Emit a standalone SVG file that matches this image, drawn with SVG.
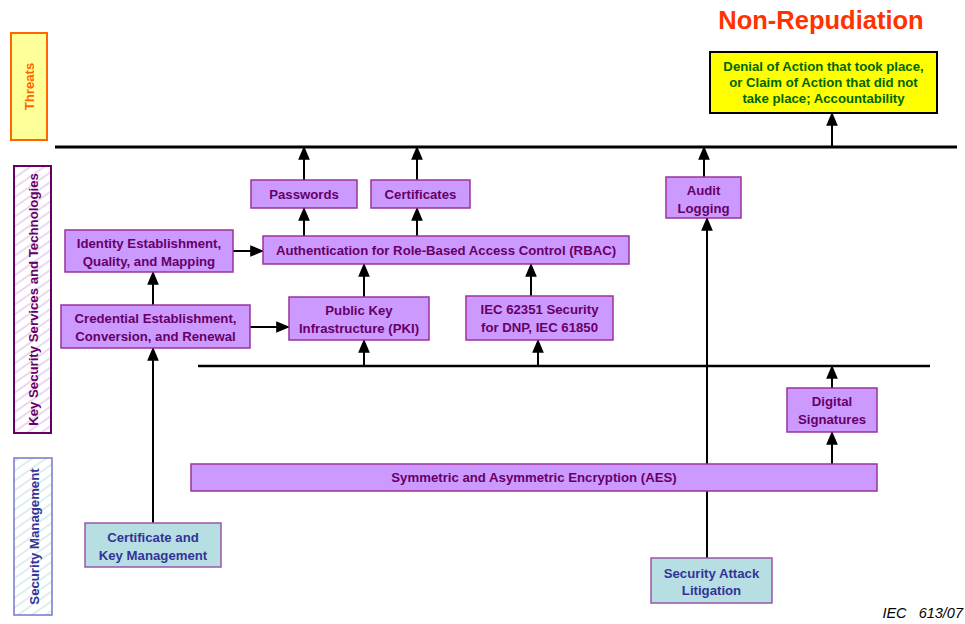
<svg xmlns="http://www.w3.org/2000/svg" width="965" height="624" viewBox="0 0 965 624">
<defs>
<marker id="ah" viewBox="0 0 12 10" refX="11" refY="5" markerWidth="7" markerHeight="6" orient="auto" markerUnits="strokeWidth">
<path d="M0,0 L12,5 L0,10 Z" fill="#000"/>
</marker>
<pattern id="hatchP" width="8" height="8" patternUnits="userSpaceOnUse" patternTransform="rotate(-35)">
<rect width="8" height="8" fill="#fff"/>
<line x1="0" y1="2" x2="8" y2="2" stroke="#e2c8ee" stroke-width="1.4"/>
</pattern>
<pattern id="hatchB" width="8" height="8" patternUnits="userSpaceOnUse" patternTransform="rotate(-35)">
<rect width="8" height="8" fill="#fff"/>
<line x1="0" y1="2" x2="8" y2="2" stroke="#cfe6ea" stroke-width="1.4"/>
</pattern>
</defs>
<style>
text{font-family:"Liberation Sans",Arial,sans-serif;font-weight:bold;text-anchor:middle}
.p rect{fill:#cc99ff;stroke:#993399;stroke-width:1.5}
.p text{fill:#660066;font-size:13.2px}
.c rect{fill:#b7dfe3;stroke:#9955aa;stroke-width:1.5}
.c text{fill:#333399;font-size:13.2px}
.conn line{stroke:#000;stroke-width:2}
.conn line.a{marker-end:url(#ah)}
</style>
<rect width="965" height="624" fill="#fff"/>

<g id="title"><text x="821" y="29" font-size="25.5" fill="#ff3300">Non-Repudiation</text></g>

<g id="lane-threats">
<rect x="11" y="33" width="36" height="107" fill="#ffff99" stroke="#ff6600" stroke-width="2"/>
<text transform="translate(34,86.5) rotate(-90)" font-size="13.2" fill="#ff6600">Threats</text>
</g>
<g id="lane-key">
<rect x="14" y="166" width="37" height="267" fill="url(#hatchP)" stroke="#660066" stroke-width="2"/>
<text transform="translate(37.5,299.5) rotate(-90)" font-size="13.2" fill="#660066">Key Security Services and Technologies</text>
</g>
<g id="lane-mgmt">
<rect x="14" y="458" width="38" height="157" fill="url(#hatchB)" stroke="#7777cc" stroke-width="1.5"/>
<text transform="translate(38.5,536.5) rotate(-90)" font-size="13.2" fill="#333399">Security Management</text>
</g>

<g id="connectors" class="conn">
<line x1="55" y1="147" x2="957" y2="147" style="stroke-width:3"/>
<line x1="198" y1="366" x2="930" y2="366" style="stroke-width:2.5"/>
<line class="a" x1="832" y1="147" x2="832" y2="113"/>
<line class="a" x1="304" y1="180" x2="304" y2="147"/>
<line class="a" x1="417" y1="180" x2="417" y2="147"/>
<line class="a" x1="704" y1="177" x2="704" y2="147"/>
<line class="a" x1="304" y1="236" x2="304" y2="208"/>
<line class="a" x1="417" y1="236" x2="417" y2="208"/>
<line class="a" x1="233" y1="251" x2="263" y2="251"/>
<line class="a" x1="153" y1="305" x2="153" y2="272"/>
<line class="a" x1="250" y1="327" x2="289" y2="327"/>
<line class="a" x1="364" y1="297" x2="364" y2="264"/>
<line class="a" x1="531" y1="296" x2="531" y2="264"/>
<line class="a" x1="364" y1="366" x2="364" y2="340"/>
<line class="a" x1="538" y1="366" x2="538" y2="340"/>
<line class="a" x1="153" y1="523" x2="153" y2="348"/>
<line class="a" x1="707" y1="558" x2="707" y2="218"/>
<line class="a" x1="832" y1="464" x2="832" y2="432"/>
<line class="a" x1="832" y1="388" x2="832" y2="366"/>
</g>

<g id="threat">
<rect x="710" y="52" width="227" height="61" fill="#ffff00" stroke="#000" stroke-width="2"/>
<text font-size="13.2" fill="#006600"><tspan x="823.5" y="71">Denial of Action that took place,</tspan><tspan x="823.5" y="87">or Claim of Action that did not</tspan><tspan x="823.5" y="103">take place; Accountability</tspan></text>
</g>

<g id="passwords" class="p"><rect x="251" y="180" width="106" height="28"/><text x="304" y="199">Passwords</text></g>
<g id="certificates" class="p"><rect x="371" y="180" width="99" height="28"/><text x="420.5" y="199">Certificates</text></g>
<g id="audit" class="p"><rect x="666" y="177" width="75" height="41"/><text><tspan x="703.5" y="195">Audit</tspan><tspan x="703.5" y="213">Logging</tspan></text></g>
<g id="rbac" class="p"><rect x="263" y="236" width="366" height="28"/><text x="446" y="255">Authentication for Role-Based Access Control (RBAC)</text></g>
<g id="identity" class="p"><rect x="65" y="230" width="168" height="42"/><text><tspan x="149" y="248">Identity Establishment,</tspan><tspan x="149" y="266">Quality, and Mapping</tspan></text></g>
<g id="credential" class="p"><rect x="61" y="305" width="189" height="43"/><text><tspan x="155.5" y="323">Credential Establishment,</tspan><tspan x="155.5" y="341">Conversion, and Renewal</tspan></text></g>
<g id="pki" class="p"><rect x="289" y="297" width="140" height="43"/><text><tspan x="359" y="315">Public Key</tspan><tspan x="359" y="333">Infrastructure (PKI)</tspan></text></g>
<g id="iec" class="p"><rect x="466" y="296" width="147" height="44"/><text><tspan x="539.5" y="314">IEC 62351 Security</tspan><tspan x="539.5" y="332">for DNP, IEC 61850</tspan></text></g>
<g id="digsig" class="p"><rect x="787" y="388" width="90" height="44"/><text><tspan x="832" y="406">Digital</tspan><tspan x="832" y="424">Signatures</tspan></text></g>
<g id="aes" class="p"><rect x="191" y="464" width="686" height="27"/><text x="534" y="482">Symmetric and Asymmetric Encryption (AES)</text></g>
<g id="certkey" class="c"><rect x="85" y="523" width="136" height="44"/><text><tspan x="153" y="542">Certificate and</tspan><tspan x="153" y="560">Key Management</tspan></text></g>
<g id="litigation" class="c"><rect x="651" y="558" width="121" height="45"/><text><tspan x="711.5" y="578">Security Attack</tspan><tspan x="711.5" y="595">Litigation</tspan></text></g>

<g id="footer"><text x="963" y="618" font-size="14.5" font-style="italic" fill="#000" style="font-weight:normal;text-anchor:end" xml:space="preserve">IEC   613/07</text></g>
</svg>
